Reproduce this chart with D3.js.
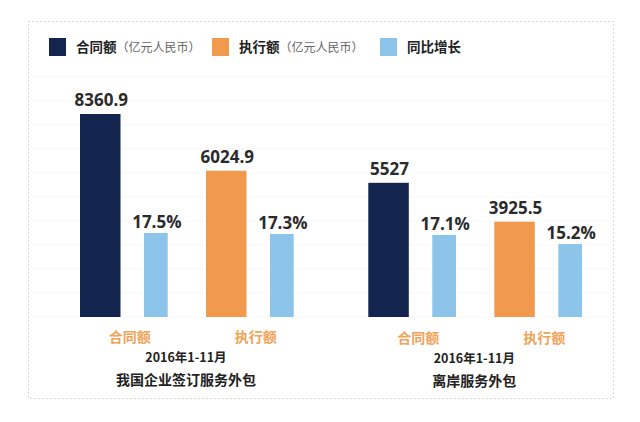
<!DOCTYPE html>
<html><head><meta charset="utf-8">
<script src="https://cdn.jsdelivr.net/npm/d3@7"></script>
<style>
html,body{margin:0;padding:0;background:#fff;}
svg{display:block;}
</style>
</head><body>
<svg id="c" width="640" height="422"></svg>
<script>
// ---- data ----
const groups = ["我国企业签订服务外包", "离岸服务外包"];
const periods = ["2016年1-11月", "2016年1-11月"];
const metrics = ["合同额", "执行额"];
const amounts = [[8360.9, 6024.9], [5527, 3925.5]];       // 亿元人民币
const growth = [[17.5, 17.3], [17.1, 15.2]];              // %
const amountLabels = [["8360.9", "6024.9"], ["5527", "3925.5"]];
const growthLabels = [["17.5%", "17.3%"], ["17.1%", "15.2%"]];
const legendNames = ["合同额", "执行额", "同比增长"];
const legendUnits = ["（亿元人民币）", "（亿元人民币）", ""];
const gridTicks = [0, 5, 10, 15, 20, 25, 30, 35, 40, 45, 50];

const navy = "#13254f", orange = "#f19a4d", sky = "#8dc4ea", labelOrange = "#f0a359";
const cjk = "'Noto Sans CJK SC','Noto Sans',sans-serif";
const num = "'Open Sans','Noto Sans',sans-serif";

const svg = d3.select("#c");
const base = 317;

const yVal = d3.scaleLinear().domain([0, 10000]).range([base, base - 242.8]);
const yPct = d3.scaleLinear().domain([0, 20]).range([base, base - 96]);
const x0 = d3.scaleBand().domain(groups).range([80, 80 + 2 * 288.3]);
const x1 = d3.scaleBand().domain(metrics).range([0, 252]);
const mainW = 40.5, growOff = 64, growW = 23.7;

// frame
svg.append("rect").attr("x", 28.5).attr("y", 21.5).attr("width", 585).attr("height", 377)
  .attr("fill", "none").attr("stroke", "#c8c8c8").attr("stroke-width", 1).attr("stroke-dasharray", "1.5,2.5");

// faint gridlines
svg.append("g").selectAll("line").data(gridTicks).join("line")
  .attr("x1", 32).attr("x2", 610)
  .attr("y1", d => yPct(d)).attr("y2", d => yPct(d))
  .attr("stroke", "#f7f7f7").attr("stroke-width", 1);

// legend
const legColors = [navy, orange, sky];
const legX = [49, 212, 380];
const lg = svg.append("g");
legendNames.forEach((n, i) => {
  const g = lg.append("g").attr("transform", `translate(${legX[i]},38)`);
  g.append("rect").attr("width", 17).attr("height", 18).attr("fill", legColors[i]);
  const t = g.append("text").attr("x", 27).attr("y", 14).attr("font-family", cjk);
  t.append("tspan").attr("font-size", 13.5).attr("font-weight", 700).attr("fill", "#222").text(n);
  if (legendUnits[i]) t.append("tspan").attr("font-size", 12).attr("font-weight", 400).attr("fill", "#666").text(legendUnits[i]);
});

// bars
groups.forEach((gname, gi) => {
  const g = svg.append("g").attr("transform", `translate(${x0(gname)},0)`);
  metrics.forEach((m, mi) => {
    const sx = x1(m);
    const v = amounts[gi][mi], p = growth[gi][mi];
    g.append("rect").attr("x", sx).attr("width", mainW)
      .attr("y", yVal(v)).attr("height", base - yVal(v))
      .attr("fill", mi === 0 ? navy : orange);
    g.append("rect").attr("x", sx + growOff).attr("width", growW)
      .attr("y", yPct(p)).attr("height", base - yPct(p))
      .attr("fill", sky);
    g.append("text").attr("x", sx + mainW / 2 + 1).attr("y", yVal(v) - 8)
      .attr("text-anchor", "middle").attr("font-family", num).attr("font-weight", 700)
      .attr("font-size", 17).attr("fill", "#2b2b2b").text(amountLabels[gi][mi]);
    g.append("text").attr("x", sx + growOff + growW / 2 + 1).attr("y", yPct(p) - 5)
      .attr("text-anchor", "middle").attr("font-family", num).attr("font-weight", 700)
      .attr("font-size", 17).attr("fill", "#2b2b2b").text(growthLabels[gi][mi]);
    g.append("text").attr("x", sx + (growOff + growW) / 2 + 6).attr("y", 342 + gi * 1)
      .attr("text-anchor", "middle").attr("font-family", cjk).attr("font-weight", 700)
      .attr("font-size", 14).attr("fill", labelOrange).text(m);
  });
  g.append("text").attr("x", 106).attr("y", 362 + gi)
    .attr("text-anchor", "middle").attr("font-family", cjk).attr("font-weight", 700)
    .attr("font-size", 12.5).attr("fill", "#222").text(periods[gi]);
  g.append("text").attr("x", 106).attr("y", 385 + gi)
    .attr("text-anchor", "middle").attr("font-family", cjk).attr("font-weight", 700)
    .attr("font-size", 14).attr("fill", "#222").text(gname);
});
</script>
</body></html>
